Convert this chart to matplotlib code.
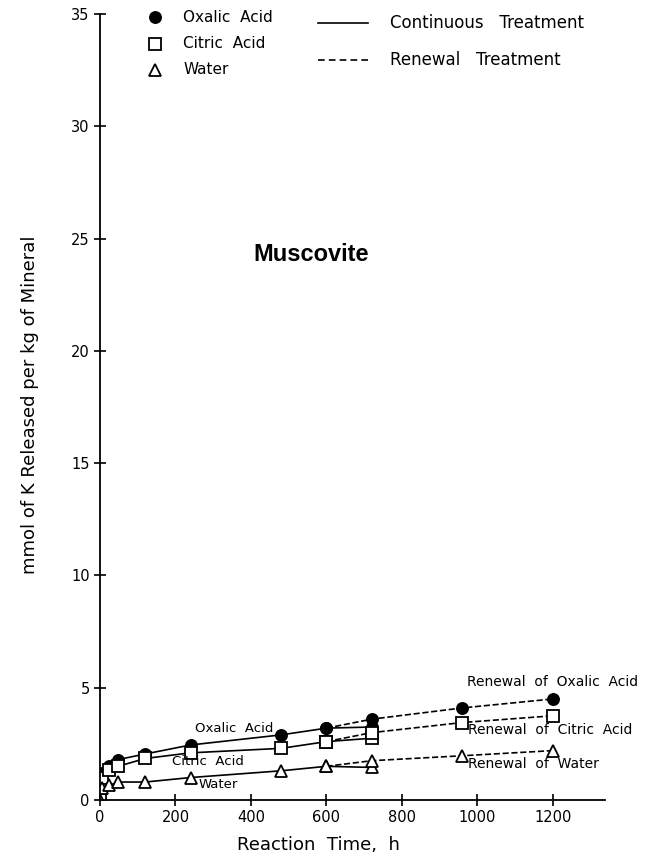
import matplotlib
matplotlib.use("Agg")
import matplotlib.pyplot as plt

# continuous treatment, h
cont_time = [0, 4, 24, 48, 120, 240, 480, 600, 720]
oxalic_cont = [0.0, 1.2, 1.5, 1.8, 2.05, 2.45, 2.9, 3.2, 3.25]
citric_cont = [0.0, 1.0, 1.35, 1.5, 1.85, 2.1, 2.3, 2.6, 2.75]
water_cont = [0.0, 0.55, 0.65, 0.8, 0.8, 1.0, 1.3, 1.5, 1.45]

# renewal treatment, h
renew_time = [600, 720, 960, 1200]
oxalic_renew = [3.2, 3.6, 4.1, 4.5]
citric_renew = [2.6, 3.0, 3.45, 3.75]
water_renew = [1.5, 1.75, 1.97, 2.2]

x_ticks = [0, 200, 400, 600, 800, 1000, 1200]
y_ticks = [0, 5, 10, 15, 20, 25, 30, 35]

W, H = 658, 861
font = "DejaVu Sans"

fig = plt.figure(figsize=(W / 100, H / 100), dpi=100)
ax = fig.add_axes([100 / W, 1 - 800 / H, 505 / W, 786 / H])

mk = dict(markersize=8, markeredgewidth=1.3, color="black", lw=1.2)
ax.plot(cont_time, oxalic_cont, "-o", markerfacecolor="black", **mk)
ax.plot(cont_time, citric_cont, "-s", markerfacecolor="white", **mk)
ax.plot(cont_time, water_cont, "-^", markerfacecolor="white", **mk)
ax.plot(renew_time, oxalic_renew, "--o", markerfacecolor="black", **mk)
ax.plot(renew_time, citric_renew, "--s", markerfacecolor="white", **mk)
ax.plot(renew_time, water_renew, "--^", markerfacecolor="white", **mk)

ax.set_xlim(0, 1338)
ax.set_ylim(0, 35)
ax.set_xticks(x_ticks)
ax.set_yticks(y_ticks)
ax.tick_params(direction="inout", length=8, width=1.2, labelsize=10.5)
for s in ["top", "right"]:
    ax.spines[s].set_visible(False)
for s in ["left", "bottom"]:
    ax.spines[s].set_linewidth(1.3)
for lab in ax.get_xticklabels() + ax.get_yticklabels():
    lab.set_family(font)

# curve labels
ax.text(355, 3.2, "Oxalic  Acid", ha="center", va="center", fontsize=9.5, family=font)
ax.text(287, 1.7, "Citric  Acid", ha="center", va="center", fontsize=9.5, family=font)
ax.text(313, 0.7, "Water", ha="center", va="center", fontsize=9.5, family=font)
ax.text(972, 5.25, "Renewal  of  Oxalic  Acid", ha="left", va="center", fontsize=10, family=font)
ax.text(975, 3.1, "Renewal  of  Citric  Acid", ha="left", va="center", fontsize=10, family=font)
ax.text(975, 1.6, "Renewal  of  Water", ha="left", va="center", fontsize=10, family=font)

ax.text(560, 24.3, "Muscovite", ha="center", va="center", fontsize=17,
        fontweight="bold", family="Liberation Sans")

# legend drawn in figure pixels
def fx(px):
    return px / W

def fy(py):
    return 1 - py / H

names = ["Oxalic  Acid", "Citric  Acid", "Water"]
marks = ["o", "s", "^"]
faces = ["black", "white", "white"]
rows = [17, 44, 70]
for n, m, f, r in zip(names, marks, faces, rows):
    fig.lines.append(plt.Line2D([fx(155)], [fy(r)], marker=m, markersize=8,
                                markerfacecolor=f, markeredgecolor="black",
                                markeredgewidth=1.3, transform=fig.transFigure))
    fig.text(fx(183), fy(r), n, va="center", fontsize=11, family=font)

fig.lines.append(plt.Line2D([fx(318), fx(368)], [fy(23), fy(23)], color="black",
                            lw=1.2, transform=fig.transFigure))
fig.lines.append(plt.Line2D([fx(318), fx(368)], [fy(60), fy(60)], color="black",
                            lw=1.2, ls="--", dashes=(4, 2.5), transform=fig.transFigure))
fig.text(fx(390), fy(23), "Continuous   Treatment", va="center", fontsize=12, family=font)
fig.text(fx(390), fy(60), "Renewal   Treatment", va="center", fontsize=12, family=font)

fig.text(fx(30), fy(405), "mmol of K Released per kg of Mineral", rotation=90,
         ha="center", va="center", fontsize=13, family=font)
fig.text(fx(318), fy(845), "Reaction  Time,  h", ha="center", va="center",
         fontsize=13, family=font)

fig.savefig("out.png", dpi=100)
